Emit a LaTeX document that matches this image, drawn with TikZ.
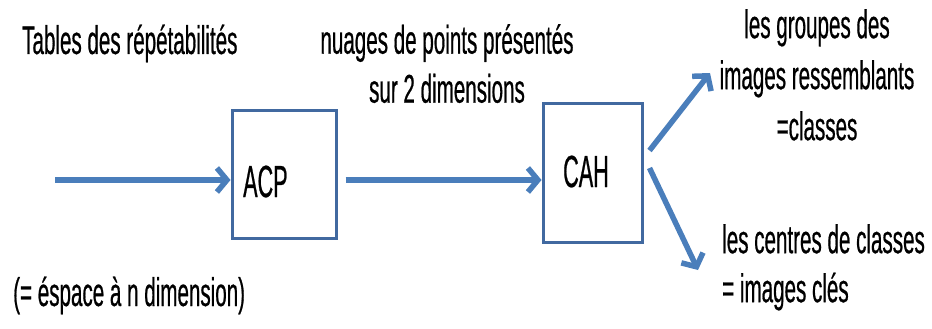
\documentclass[tikz,border=0pt]{standalone}
\usepackage{fontspec}
\setmainfont[FakeStretch=0.515,FakeBold=0.5]{Liberation Sans}
\newfontfamily\boxfont[FakeStretch=0.48,FakeBold=0.5]{Liberation Sans}
\usetikzlibrary{arrows.meta}
\definecolor{flowblue}{RGB}{74,126,187}
\definecolor{boxblue}{RGB}{65,105,160}
\begin{document}
\begin{tikzpicture}[x=1pt,y=-1pt,
  stagebox/.style={draw=boxblue,line width=3pt,inner sep=0pt,fill=white},
  stagelabel/.style={inner sep=0pt,anchor=base west,font=\boxfont\fontsize{45}{48}\selectfont},
  note/.style={inner sep=0pt,font=\fontsize{40}{49}\selectfont},
  flow/.style={draw=flowblue,line width=5.5pt,-{Straight Barb[length=10pt,width=24pt]}}]
  \useasboundingbox (0,0) rectangle (932,329);
  % processing stages
  \node[stagebox,minimum width=104pt,minimum height=128pt] (acp) at (284,174) {};
  \node[stagelabel] (acplabel) at (243,197) {ACP};
  \node[stagebox,minimum width=99pt,minimum height=139pt] (cah) at (592.5,172.5) {};
  \node[stagelabel] (cahlabel) at (563,187) {CAH};
  % annotations
  \node[note,anchor=base west] (tables) at (22,54) {Tables des répétabilités};
  \node[note,anchor=base west] (espace) at (13,306) {(= éspace à n dimension)};
  \node[note,anchor=north,align=center] (nuages) at (447,24) {nuages de points présentés\\sur 2 dimensions};
  \node[note,anchor=north,align=center,font=\fontsize{40}{51}\selectfont] (groupes) at (817,9) {les groupes des\\images ressemblants\\=classes};
  \node[note,anchor=north west,align=left,font=\fontsize{40}{49}\selectfont] (centres) at (722,224) {les centres de classes\\= images clés};
  % connectors
  \coordinate (src) at (55,180);
  \coordinate (outA) at (710,73);
  \coordinate (outB) at (698,270);
  \draw[flow] (src) -- (src -| acp.west);
  \draw[flow] ([xshift=8pt]acp.east |- src) -- (cah.west |- src);
  \draw[flow] ([xshift=6pt,yshift=22pt]cah.east) -- (outA);
  \draw[flow] ([xshift=6pt,yshift=4.5pt]cah.east) -- (outB);
\end{tikzpicture}
\end{document}
